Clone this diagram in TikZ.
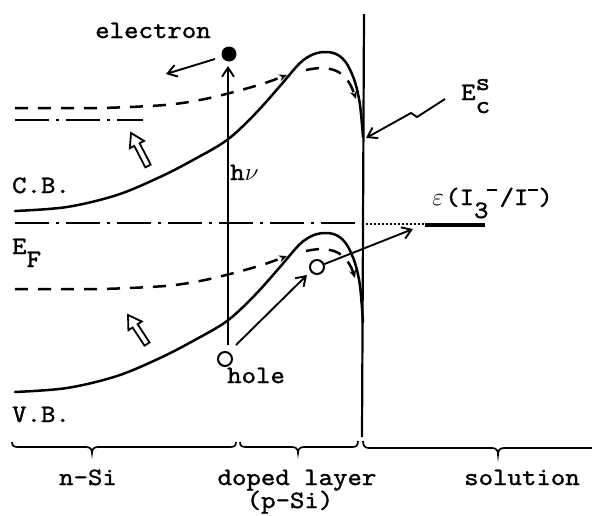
\documentclass[tikz,border=0pt]{standalone}
\usepackage{fix-cm}
\usepackage{fontspec}
\newfontfamily\tw{lmmono10-regular}[Extension=.otf, FakeStretch=1.1, FakeBold=1.2]
\usetikzlibrary{arrows.meta, calc}
\begin{document}
\begin{tikzpicture}[x=1pt,y=-1pt,
  lbl/.style={font={\tw\fontsize{25}{27}\selectfont}, inner sep=0pt},
  band/.style={line width=2.5pt, line cap=round},
  dband/.style={line width=2.5pt, dash pattern=on 13pt off 10pt},
  dashdot/.style={line width=2.3pt, dash pattern=on 34pt off 7pt on 3pt off 7pt},
  arr/.style={line width=1.9pt, -{Straight Barb[length=9pt,width=12pt]}},
  tip/.style={-{Stealth[length=8pt,width=7pt]}},
  hollow/.style={draw, fill=white, line width=1.8pt, line join=miter},
  bracep/.style={line width=1.7pt},
  hcircle/.style={circle, draw, line width=2pt, minimum size=14pt, inner sep=0pt}]
\useasboundingbox (0,0) rectangle (592,515);

% interface
\coordinate (ifT) at (364,14);
\coordinate (ifB) at (362,437);
\draw[line width=2.2pt] (ifT) -- (ifB);

% conduction band (solid)
\draw[band] plot[smooth, tension=0.55] coordinates {(15,211) (67,207) (117,195) (160,177) (193,160) (227,140) (255,114) (280,86) (300,63) (314,54) (327,52) (338,55) (347,64) (355,82) (360,105) (363,137)};
% conduction band (dashed)
\draw[dband, tip] plot[smooth, tension=0.5] coordinates {(15,108) (100,108) (165,105) (200,100) (230,93) (262,84) (287,75)};
\draw[dband, tip] plot[smooth, tension=0.5] coordinates {(306,70) (320,68) (334,70) (344,76) (351,86) (356,99)};
% dash-dot level under dashed
\draw[dashdot] (15,120) -- (143,120);

% valence band
\begin{scope}[shift={(0,181)}]
\draw[band] plot[smooth, tension=0.55] coordinates {(15,211) (67,207) (117,195) (160,177) (193,160) (227,140) (255,114) (280,86) (300,63) (314,54) (327,52) (338,55) (347,64) (355,82) (360,105) (363,141)};
\draw[dband, tip] plot[smooth, tension=0.5] coordinates {(15,108) (100,108) (165,105) (200,100) (230,93) (262,84) (287,75)};
\draw[dband, tip] plot[smooth, tension=0.5] coordinates {(306,70) (320,68) (334,70) (344,76) (351,86) (355,97)};
\end{scope}

% Fermi level
\draw[dashdot] (15,223) -- (362,223);
\draw[line width=2pt, dash pattern=on 1.6pt off 2.4pt] (366,224) -- (425,224);
\draw[line width=4.2pt] (425,225) -- (485,225);

% electron
\node[circle, fill, minimum size=15pt, inner sep=0pt] (el) at (229,54) {};
\coordinate (elA) at (215,59);
\coordinate (elB) at (166,74);
\draw[arr] (elA) -- (elB);
\node[lbl, anchor=base] (eltxt) at (153,38) {electron};

% h nu
\coordinate (hvB) at (228,345);
\coordinate (hvT) at (228,66);
\draw[arr] (hvB) -- (hvT);
\node[lbl, anchor=base west] (hv) at (230,180) {h\makebox[14pt]{$\nu$}};

% holes
\node[hcircle] (h1) at (225,359) {};
\node[hcircle] (h2) at (317,267) {};
\coordinate (hA) at (236,345);
\coordinate (hB) at (307,275);
\draw[arr] (hA) -- (hB);
\coordinate (hC) at (413,229);
\draw[arr] (h2) -- (hC);
\node[lbl, anchor=base west] (holetxt) at (227,383) {hole};

% hollow arrows
\coordinate (o1a) at (148,166);
\coordinate (o1b) at (131,133);
\coordinate (o1n) at ($(o1b)!13pt!(o1a)$);
\path[hollow] ($(o1a)!3pt!90:(o1b)$) -- ($(o1n)!3pt!90:(o1b)$) -- ($(o1n)!8pt!90:(o1b)$) -- (o1b) -- ($(o1n)!8pt!-90:(o1b)$) -- ($(o1n)!3pt!-90:(o1b)$) -- ($(o1a)!3pt!-90:(o1b)$) -- cycle;
\coordinate (o2a) at (147,344);
\coordinate (o2b) at (128,315);
\coordinate (o2n) at ($(o2b)!13pt!(o2a)$);
\path[hollow] ($(o2a)!3pt!90:(o2b)$) -- ($(o2n)!3pt!90:(o2b)$) -- ($(o2n)!8pt!90:(o2b)$) -- (o2b) -- ($(o2n)!8pt!-90:(o2b)$) -- ($(o2n)!3pt!-90:(o2b)$) -- ($(o2a)!3pt!-90:(o2b)$) -- cycle;

% labels left
\node[lbl, anchor=base west] (cb) at (12,193) {C.B.};
\node[lbl, anchor=base west] (ef) at (12,254) {E\raisebox{-13pt}{F}};
\node[lbl, anchor=base west] (vb) at (12,422) {V.B.};

% E_c^s
\node[lbl, anchor=base west] (ecs) at (461,100) {E\rlap{\raisebox{10pt}{s}}\raisebox{-13pt}{c}};
\coordinate (lz1) at (445,99);
\coordinate (lz2) at (417,117);
\coordinate (lz3) at (411,113);
\coordinate (lz4) at (366,138);
\draw[line width=1.9pt, -{Straight Barb[length=9pt,width=12pt]}] (lz1) -- (lz2) -- (lz3) -- (lz4);

% redox level label
\node[lbl, anchor=base west] (redox) at (431,205) {\makebox[14pt]{$\varepsilon$}(I\raisebox{-13pt}{3}\kern-2pt\raisebox{14pt}{\rule{10pt}{1.7pt}}\kern3pt/I\raisebox{14pt}{\rule{10pt}{1.7pt}})};

% braces
\draw[bracep] (12,442) .. controls (12,446) and (14,447) .. (18,447) -- (86,447) .. controls (90,447) and (92,449) .. (92,453) .. controls (92,449) and (94,447) .. (98,447) -- (230,447) .. controls (234,447) and (236,446) .. (236,442);
\draw[bracep] (240,442) .. controls (240,446) and (242,447) .. (246,447) -- (292,447) .. controls (296,447) and (298,449) .. (298,453) .. controls (298,449) and (300,447) .. (304,447) -- (352,447) .. controls (356,447) and (358,446) .. (358,441);
\draw[bracep] (363,441) .. controls (363,446) and (365,448) .. (369,448) -- (492,448) .. controls (496,448) and (498,450) .. (498,455) .. controls (498,450) and (500,448) .. (504,448) -- (592,448);

% bottom labels
\node[lbl, anchor=base] (nsi) at (88,485) {n-Si};
\node[lbl, anchor=base] (doped) at (297,485) {doped layer};
\node[lbl, anchor=base] (psi) at (290,508) {(p-Si)};
\node[lbl, anchor=base] (sol) at (522,485) {solution};
\end{tikzpicture}
\end{document}
